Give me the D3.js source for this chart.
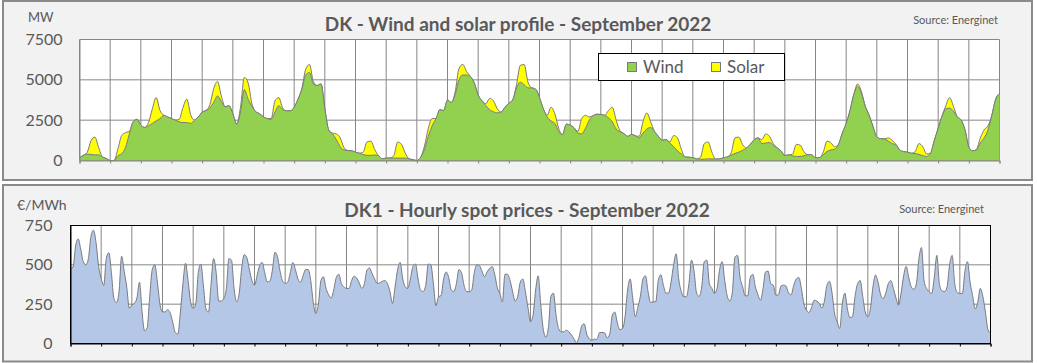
<!DOCTYPE html>
<html>
<head>
<meta charset="utf-8">
<script src="https://cdn.jsdelivr.net/npm/d3@7"></script>
<style>
  body { margin: 0; background: #fff; }
  svg text { font-family: Lato, "Liberation Sans", sans-serif; fill: #595959; }
</style>
</head>
<body>
<svg id="chart" width="1037" height="363"></svg>
<script>
// 風力 (MW), 3時間ごと (1日8点, 最後に終点)
const windMW = [
  170,320,400,370,350,350,220,120,
  0,0,300,420,800,1650,2400,2550,
  2200,2050,2150,2300,2450,2600,2800,2700,
  2600,2500,2400,2350,2350,2300,2500,2700,
  3000,3100,3250,3600,4000,3650,3330,3400,
  2900,2250,3000,4400,3800,3350,3020,2900,
  2700,2600,2550,3000,3400,3150,3080,3080,
  3300,3800,4400,5300,5450,4750,4650,4750,
  3230,1900,1650,1300,850,650,620,600,
  520,450,370,320,320,340,300,100,
  150,150,150,150,150,150,100,50,
  0,200,700,1500,2150,2600,3150,3100,
  3750,3600,4100,5000,5300,5300,5200,4800,
  4050,3700,3400,3150,3020,2950,3000,3300,
  3540,3750,4500,4850,4700,4500,4500,4420,
  3900,3200,2700,2450,2300,1800,1600,2250,
  2190,2030,1700,1650,2000,2500,2780,2870,
  2850,2800,2650,2400,1950,1780,1670,1500,
  1620,1530,1400,1700,1950,2050,1800,1500,
  1250,1300,1080,850,600,400,220,200,
  180,100,80,80,100,100,90,100,
  170,220,330,440,520,630,780,1000,
  1290,1400,1050,1080,1120,950,780,600,
  310,350,300,250,250,290,360,350,
  170,170,350,560,650,700,1000,1700,
  2290,3100,4100,4600,4150,3350,2800,2100,
  1460,1350,1330,1200,1050,950,650,550,
  520,450,430,380,300,250,450,1250,
  2000,2750,3200,3250,3050,2700,2500,1900,
  830,600,650,1100,1400,1900,2800,3800,
  4150
];

// 太陽光 (MW), 同じ時間軸
const solarMW = [
  0,0,100,850,1100,450,0,0,
  0,0,400,1130,930,150,0,0,
  0,0,200,900,1450,500,0,0,
  0,0,150,950,1450,550,0,0,
  0,0,200,850,900,350,0,0,
  0,0,300,750,1000,150,0,0,
  0,0,50,700,500,100,0,0,
  0,0,50,350,500,150,0,0,
  0,0,50,350,550,150,0,0,
  0,0,150,830,880,350,0,0,
  0,0,150,1000,850,300,0,0,
  0,0,200,500,450,0,0,0,
  0,0,150,700,650,200,0,0,
  0,0,120,700,680,250,0,0,
  0,0,200,1050,1250,350,0,0,
  0,0,100,850,600,200,0,0,
  0,0,100,950,800,200,0,0,
  0,0,450,900,550,70,0,0,
  0,0,100,700,1000,350,0,0,
  0,0,70,700,800,300,0,0,
  0,0,120,970,1050,400,0,0,
  0,0,150,960,930,350,0,0,
  0,0,250,570,380,100,0,0,
  0,0,100,750,700,250,0,0,
  0,0,150,640,450,150,0,0,
  0,0,0,150,100,0,0,0,
  0,0,20,200,200,50,0,0,
  0,0,120,670,550,150,0,0,
  0,0,200,650,300,0,0,0,
  0,0,50,300,500,250,0,0,
  0
];

// DK1 スポット価格 (€/MWh), 2時間ごと (1日12点, 最後に終点)
const priceEUR = [
  477,485,620,665,600,520,500,540,680,720,640,490,
  413,370,540,577,450,285,260,330,555,460,360,225,
  244,255,290,390,200,80,100,300,470,500,390,250,
  201,201,215,195,135,70,60,200,380,510,400,265,
  223,250,450,505,370,220,200,380,540,450,270,270,
  286,350,540,530,350,265,318,480,565,545,470,400,
  371,430,495,515,450,392,396,466,580,550,460,395,
  382,390,450,515,470,410,390,430,470,470,400,260,
  191,250,400,424,350,310,290,340,420,440,380,360,
  350,350,400,428,415,385,350,380,466,480,445,410,
  382,385,395,400,380,330,255,360,470,515,410,360,
  350,410,490,505,410,340,330,370,505,500,380,240,
  297,305,410,455,420,340,330,380,470,450,370,329,
  329,340,450,500,495,460,425,455,478,488,440,355,
  318,265,440,440,400,330,270,300,390,410,330,230,
  138,180,340,430,250,90,40,100,300,320,180,95,
  74,74,85,74,55,30,5,40,110,125,60,30,
  21,28,25,70,70,68,35,60,180,200,130,88,
  95,170,340,410,290,170,230,300,410,430,330,260,
  265,265,400,437,370,320,320,390,500,570,410,330,
  297,297,380,530,460,320,300,360,520,530,380,350,
  318,350,470,520,400,300,270,330,550,560,420,360,
  303,303,420,440,360,310,275,350,455,460,380,370,
  307,310,365,371,365,320,310,370,410,420,350,250,
  212,197,230,275,270,255,225,270,370,395,320,190,
  138,95,250,320,220,165,170,300,380,400,300,200,
  170,220,360,435,390,310,285,320,380,400,350,290,
  244,320,430,490,420,360,345,380,540,610,400,350,
  329,318,420,560,380,335,330,360,500,560,380,325,
  318,318,460,520,390,305,220,260,350,300,200,90,
  65
];

const windTicks = [0, 2500, 5000, 7500];
const priceTicks = [0, 250, 500, 750];
const dayTicks = d3.range(0, 721, 24);   // 1日ごとの縦線

const svg = d3.select("#chart");

// 外枠
function panel(y0, y1) {
  svg.append("rect")
    .attr("x", 3).attr("y", y0)
    .attr("width", 1029).attr("height", y1 - y0)
    .attr("fill", "#f2f2f2")
    .attr("stroke", "#8a8a8a")
    .attr("stroke-width", 2);
}
panel(1, 180);
panel(185, 361.5);

// ---------- 上: 風力と太陽光 ----------
const x1 = d3.scaleLinear().domain([0, 720]).range([79.5, 999.5]);
const y1 = d3.scaleLinear().domain([0, 7500]).range([160.5, 39.5]);

svg.append("rect")
  .attr("x", x1(0)).attr("y", y1(7500))
  .attr("width", x1(720) - x1(0)).attr("height", y1(0) - y1(7500))
  .attr("fill", "#fff");

const g1 = svg.append("g");
g1.selectAll("line.h").data(windTicks).enter().append("line")
  .attr("x1", x1(0)).attr("x2", x1(720))
  .attr("y1", d => y1(d)).attr("y2", d => y1(d))
  .attr("stroke", "#868686");
g1.selectAll("line.v").data(dayTicks).enter().append("line")
  .attr("x1", d => x1(d)).attr("x2", d => x1(d))
  .attr("y1", y1(0)).attr("y2", y1(7500))
  .attr("stroke", "#868686");

const rows1 = windMW.map((w, i) => ({ hour: i * 3, wind: w, solar: solarMW[i] }));
const stacked = d3.stack().keys(["wind", "solar"])(rows1);
const colors1 = { wind: "#92d050", solar: "#ffff00" };

const area1 = d3.area()
  .x(d => x1(d.data.hour))
  .y0(d => y1(d[0]))
  .y1(d => y1(d[1]))
  .curve(d3.curveMonotoneX);
const line1 = d3.line()
  .x(d => x1(d.data.hour))
  .y(d => y1(d[1]))
  .curve(d3.curveMonotoneX);

// 太陽光を先に描いてから風力を重ねる
[stacked[1], stacked[0]].forEach(s => {
  g1.append("path").datum(s)
    .attr("d", area1)
    .attr("fill", colors1[s.key]);
  g1.append("path").datum(s)
    .attr("d", line1)
    .attr("fill", "none")
    .attr("stroke", "#7a7a7a")
    .attr("stroke-width", 1);
});

svg.append("g")
  .attr("transform", `translate(0,${y1(0)})`)
  .call(d3.axisBottom(x1).tickValues(dayTicks).tickSize(3).tickFormat(""))
  .call(g => g.selectAll("line, path").attr("stroke", "#868686"));

svg.append("g")
  .attr("transform", `translate(${x1(0)},0)`)
  .call(d3.axisLeft(y1).tickValues(windTicks).tickSize(0).tickPadding(17).tickFormat(d3.format("d")))
  .call(g => g.select(".domain").attr("stroke", "#868686"))
  .call(g => g.selectAll("text").attr("font-size", 16).style("font-family", "Lato").attr("fill", "#595959"));

svg.append("text").attr("x", 28).attr("y", 22).attr("font-size", 13).text("MW");
svg.append("text").attr("x", 518).attr("y", 30.5)
  .attr("text-anchor", "middle").attr("font-size", 19).attr("font-weight", "bold")
  .text("DK - Wind and solar profile - September 2022");
svg.append("text").attr("x", 998).attr("y", 24)
  .attr("text-anchor", "end").attr("font-size", 11)
  .text("Source: Energinet");

// 凡例
const legend = svg.append("g");
legend.append("rect")
  .attr("x", 598.5).attr("y", 53.5).attr("width", 186).attr("height", 27)
  .attr("fill", "#fff").attr("stroke", "#000");
[["Wind", colors1.wind, 627], ["Solar", colors1.solar, 711]].forEach(([name, c, lx]) => {
  legend.append("rect")
    .attr("x", lx + 0.5).attr("y", 62.5).attr("width", 9).attr("height", 9)
    .attr("fill", c).attr("stroke", "#7a7a7a");
  legend.append("text")
    .attr("x", lx + 16).attr("y", 73)
    .attr("font-size", 17).text(name);
});

// ---------- 下: スポット価格 ----------
const x2 = d3.scaleLinear().domain([0, 720]).range([70.5, 990.5]);
const y2 = d3.scaleLinear().domain([0, 750]).range([343.5, 225.5]);

svg.append("rect")
  .attr("x", x2(0)).attr("y", y2(750))
  .attr("width", x2(720) - x2(0)).attr("height", y2(0) - y2(750))
  .attr("fill", "#fff");

const g2 = svg.append("g");
g2.selectAll("line.h").data(priceTicks).enter().append("line")
  .attr("x1", x2(0)).attr("x2", x2(720))
  .attr("y1", d => y2(d)).attr("y2", d => y2(d))
  .attr("stroke", "#868686");
g2.selectAll("line.v").data(dayTicks).enter().append("line")
  .attr("x1", d => x2(d)).attr("x2", d => x2(d))
  .attr("y1", y2(0)).attr("y2", y2(750))
  .attr("stroke", "#868686");

const rows2 = priceEUR.map((p, i) => ({ hour: i * 2, price: p }));
g2.append("path").datum(rows2)
  .attr("d", d3.area()
    .x(d => x2(d.hour)).y0(y2(0)).y1(d => y2(d.price))
    .curve(d3.curveMonotoneX))
  .attr("fill", "#b4c7e7");
g2.append("path").datum(rows2)
  .attr("d", d3.line()
    .x(d => x2(d.hour)).y(d => y2(d.price))
    .curve(d3.curveMonotoneX))
  .attr("fill", "none")
  .attr("stroke", "#7a7a7a")
  .attr("stroke-width", 1);

// 枠線 (黒)
svg.append("rect")
  .attr("x", x2(0)).attr("y", y2(750))
  .attr("width", x2(720) - x2(0)).attr("height", y2(0) - y2(750))
  .attr("fill", "none").attr("stroke", "#000");

svg.append("g")
  .attr("transform", `translate(0,${y2(0)})`)
  .call(d3.axisBottom(x2).tickValues(dayTicks).tickSize(3).tickFormat(""))
  .call(g => g.selectAll("line, path").attr("stroke", "#000"));

svg.append("g")
  .attr("transform", `translate(${x2(0)},0)`)
  .call(d3.axisLeft(y2).tickValues(priceTicks).tickSize(0).tickPadding(18))
  .call(g => g.select(".domain").attr("stroke", "#000"))
  .call(g => g.selectAll("text").attr("font-size", 16).style("font-family", "Lato").attr("fill", "#595959"));

svg.append("text").attr("x", 17).attr("y", 210).attr("font-size", 14).text("€/MWh");
svg.append("text").attr("x", 527).attr("y", 217)
  .attr("text-anchor", "middle").attr("font-size", 19).attr("font-weight", "bold")
  .text("DK1 - Hourly spot prices - September 2022");
svg.append("text").attr("x", 984).attr("y", 213)
  .attr("text-anchor", "end").attr("font-size", 11)
  .text("Source: Energinet");
</script>
</body>
</html>
